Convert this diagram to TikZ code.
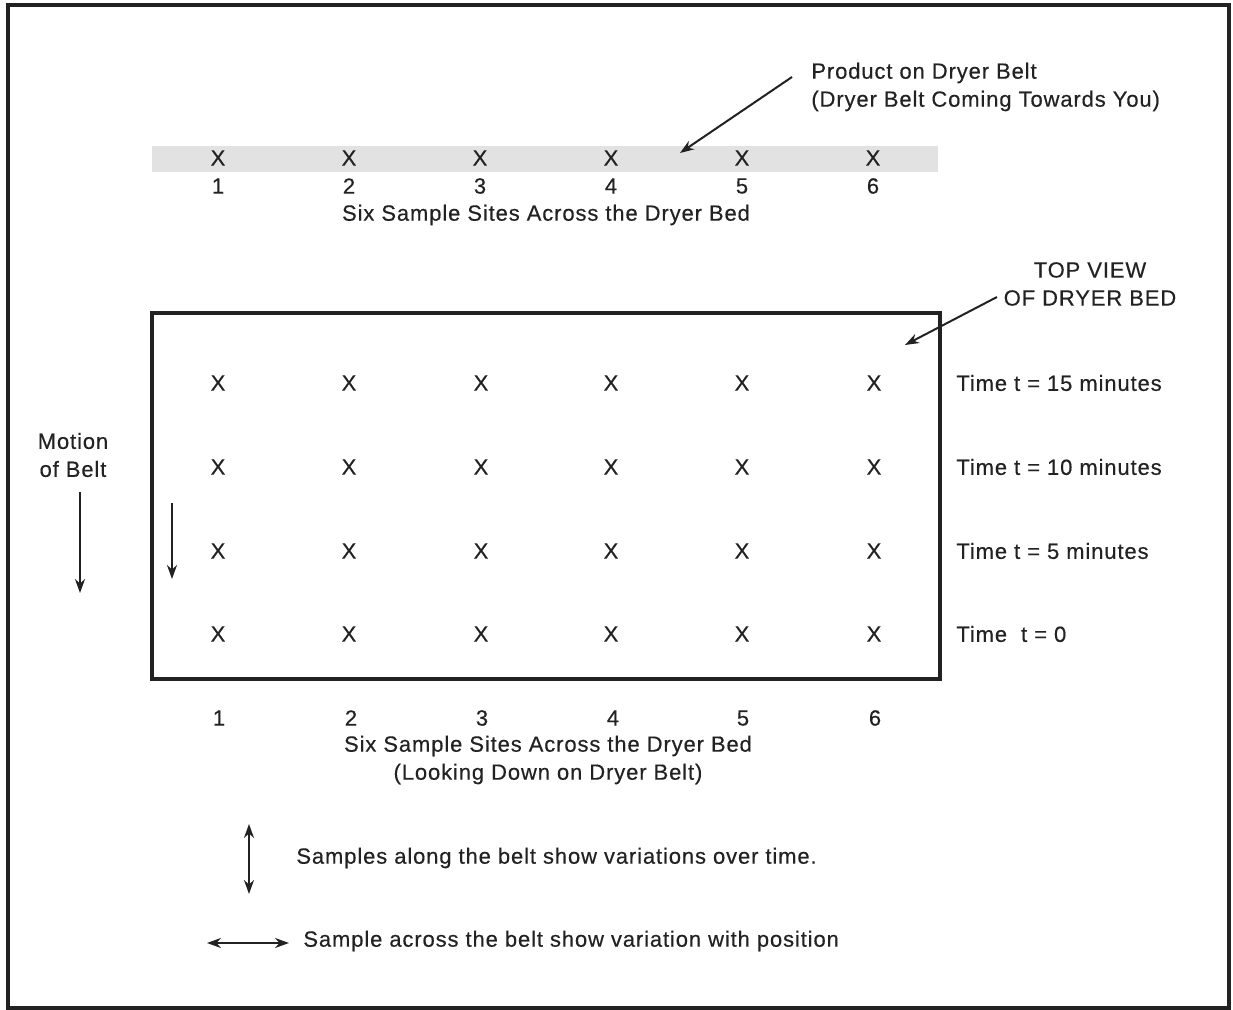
\documentclass[tikz,border=0pt]{standalone}
\usepackage{fontspec}
\setmainfont[LetterSpace=4,FakeBold=0.4]{Liberation Sans}
\usetikzlibrary{arrows.meta}
\definecolor{ink}{HTML}{222222}
\definecolor{beltgray}{HTML}{E2E2E2}
\begin{document}
\begin{tikzpicture}[x=0.5pt,y=-0.5pt,
  txt/.style={inner sep=0pt,text=ink,font=\fontsize{11}{12}\selectfont},
  lbl/.style={txt,anchor=west},
  frame/.style={draw=ink,line width=2pt},
  arr/.style={draw=ink,line width=1pt,-{Stealth[length=7pt,width=5pt]}},
  darr/.style={draw=ink,line width=1pt,{Stealth[length=7pt,width=5pt]}-{Stealth[length=7pt,width=5pt]}}]
\useasboundingbox (0,0) rectangle (1233,1010);
% outer frame
\draw[frame] (8,5) rectangle (1229,1008);
% belt band
\fill[beltgray] (152,146) rectangle (938,172);
\foreach \i/\x in {1/218,2/349,3/480,4/611,5/742,6/873}{
  \node[txt] (bx\i) at (\x,158) {X};
  \node[txt] (bn\i) at (\x,186) {\i};
}
\node[txt] (toptitle) at (546,215) {Six Sample Sites Across the Dryer Bed};
\node[lbl] (prod1) at (811,73) {Product on Dryer Belt};
\node[lbl] (prod2) at (811,101) {(Dryer Belt Coming Towards You)};
\coordinate (prodstart) at (792,77);
\coordinate (prodend) at (680,153);
\draw[arr] (prodstart) -- (prodend);
% top view box
\draw[frame] (152,313) rectangle (940,679);
\foreach \r/\y in {1/383,2/467,3/551,4/634}{
  \foreach \i/\x in {1/218,2/349,3/481,4/611,5/742,6/874}{
    \node[txt] (g\r\i) at (\x,\y) {X};
  }
}
\node[lbl] (t15) at (956,383) {Time t = 15 minutes};
\node[lbl] (t10) at (956,467) {Time t = 10 minutes};
\node[lbl] (t5) at (956,551) {Time t = 5 minutes};
\node[lbl] (t0) at (956,634) {Time\ \ t = 0};
\node[txt,align=center] (topview) at (1090,284) {TOP VIEW\\[2pt]OF DRYER BED};
\coordinate (tvstart) at (997,297);
\coordinate (tvend) at (905,345);
\draw[arr] (tvstart) -- (tvend);
% motion of belt
\node[txt,align=center] (motion) at (73,455) {Motion\\[2pt]of Belt};
\coordinate (m1) at (80,492);
\coordinate (m2) at (80,593);
\draw[arr] (m1) -- (m2);
\coordinate (b1) at (172,503);
\coordinate (b2) at (172,579);
\draw[arr] (b1) -- (b2);
% bottom numbers
\foreach \i/\x in {1/219,2/351,3/482,4/613,5/743,6/875}{
  \node[txt] (nn\i) at (\x,718) {\i};
}
\node[txt,align=center] (bottitle) at (548,760) {Six Sample Sites Across the Dryer Bed\\[2pt](Looking Down on Dryer Belt)};
% legend
\coordinate (v1) at (249,824);
\coordinate (v2) at (249,894);
\draw[darr] (v1) -- (v2);
\node[lbl] (leg1) at (296,858) {Samples along the belt show variations over time.};
\coordinate (h1) at (207,943);
\coordinate (h2) at (289,943);
\draw[darr] (h1) -- (h2);
\node[lbl] (leg2) at (303,941) {Sample across the belt show variation with position};
\end{tikzpicture}
\end{document}
